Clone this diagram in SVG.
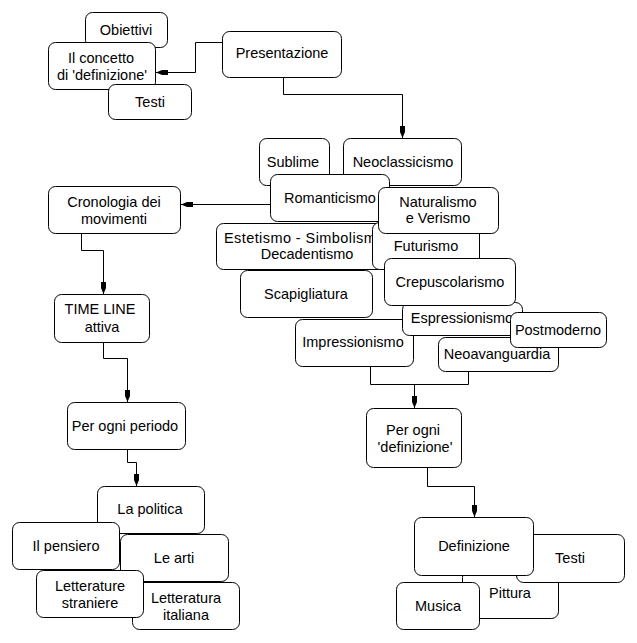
<svg xmlns="http://www.w3.org/2000/svg" width="637" height="643" viewBox="0 0 637 643">
<style>
.b{fill:#fff;stroke:#000;stroke-width:1}
.t{font-family:"Liberation Sans",Arial,sans-serif;font-size:14.5px;fill:#000;text-anchor:middle}
.c{fill:none;stroke:#000;stroke-width:1}
</style>
<defs>
<marker id="ah" markerUnits="userSpaceOnUse" markerWidth="12" markerHeight="8" viewBox="0 0 12 8" refX="12" refY="4" orient="auto">
<path d="M0,1.5 L6,1.5 L12,4 L6,6.5 L0,6.5 Z" fill="#000"/>
</marker>
</defs>
<rect width="637" height="643" fill="#fff"/>
<g id="connectors">
<polyline class="c" points="222.5,42.5 195.5,42.5 195.5,72.5 156,72.5" marker-end="url(#ah)"/>
<polyline class="c" points="283.5,77.5 283.5,94.5 402.5,94.5 402.5,138" marker-end="url(#ah)"/>
<polyline class="c" points="270.5,204.5 181,204.5" marker-end="url(#ah)"/>
<polyline class="c" points="81.5,233.5 81.5,250.5 103.5,250.5 103.5,294" marker-end="url(#ah)"/>
<polyline class="c" points="103.5,342.5 103.5,358.5 127.5,358.5 127.5,402" marker-end="url(#ah)"/>
<polyline class="c" points="127.5,449.5 127.5,462.5 136.5,462.5 136.5,486" marker-end="url(#ah)"/>
<polyline class="c" points="370.5,366.5 370.5,384.5 468.5,384.5 468.5,371.5"/>
<polyline class="c" points="414.5,384.5 414.5,408" marker-end="url(#ah)"/>
<polyline class="c" points="427.5,467.5 427.5,486.5 474.5,486.5 474.5,517" marker-end="url(#ah)"/>
</g>
<g id="obiettivi"><rect class="b" x="85.5" y="12.5" width="82" height="35" rx="7"/><text class="t" x="126" y="35">Obiettivi</text></g>
<g id="concetto"><rect class="b" x="48.5" y="42.5" width="107" height="47" rx="7"/><text class="t" x="101" y="63">Il concetto</text><text class="t" x="102" y="80">di 'definizione'</text></g>
<g id="testi1"><rect class="b" x="108.5" y="84.5" width="83" height="35" rx="7"/><text class="t" x="150" y="107">Testi</text></g>
<g id="presentazione"><rect class="b" x="222.5" y="31.5" width="119" height="46" rx="7"/><text class="t" x="282" y="58">Presentazione</text></g>
<g id="sublime"><rect class="b" x="259.5" y="138.5" width="70" height="47" rx="7"/><text class="t" x="293" y="167">Sublime</text></g>
<g id="neoclassicismo"><rect class="b" x="343.5" y="138.5" width="118" height="47" rx="7"/><text class="t" x="403" y="167">Neoclassicismo</text></g>
<g id="romanticismo"><rect class="b" x="270.5" y="174.5" width="119" height="47" rx="7"/><text class="t" x="330" y="203">Romanticismo</text></g>
<g id="estetismo"><rect class="b" x="216.5" y="223.5" width="182" height="46" rx="7"/><text class="t" x="224" y="243" style="text-anchor:start" textLength="170" lengthAdjust="spacing">Estetismo - Simbolismo -</text><text class="t" x="307" y="259">Decadentismo</text></g>
<g id="futurismo"><rect class="b" x="372.5" y="222.5" width="107" height="47" rx="7"/><text class="t" x="426" y="251">Futurismo</text></g>
<g id="naturalismo"><rect class="b" x="378.5" y="187.5" width="120" height="46" rx="7"/><text class="t" x="438" y="207">Naturalismo</text><text class="t" x="438" y="223">e Verismo</text></g>
<g id="scapigliatura"><rect class="b" x="240.5" y="270.5" width="132" height="47" rx="7"/><text class="t" x="306" y="299">Scapigliatura</text></g>
<g id="impressionismo"><rect class="b" x="295.5" y="319.5" width="118" height="47" rx="7"/><text class="t" x="353" y="347">Impressionismo</text></g>
<g id="espressionismo"><rect class="b" x="402.5" y="302.5" width="120" height="33" rx="7"/><text class="t" x="462" y="323">Espressionismo</text></g>
<g id="crepuscolarismo"><rect class="b" x="384.5" y="258.5" width="131" height="47" rx="7"/><text class="t" x="450" y="287">Crepuscolarismo</text></g>
<g id="neoavanguardia"><rect class="b" x="438.5" y="337.5" width="120" height="34" rx="7"/><text class="t" x="497" y="359">Neoavanguardia</text></g>
<g id="postmoderno"><rect class="b" x="510.5" y="312.5" width="96" height="35" rx="7"/><text class="t" x="558" y="335">Postmoderno</text></g>
<g id="cronologia"><rect class="b" x="48.5" y="186.5" width="132" height="47" rx="7"/><text class="t" x="114" y="207">Cronologia dei</text><text class="t" x="114" y="224">movimenti</text></g>
<g id="timeline"><rect class="b" x="54.5" y="294.5" width="95" height="48" rx="7"/><text class="t" x="100" y="314">TIME LINE</text><text class="t" x="102" y="332">attiva</text></g>
<g id="periodo"><rect class="b" x="67.5" y="402.5" width="118" height="47" rx="7"/><text class="t" x="125" y="431">Per ogni periodo</text></g>
<g id="politica"><rect class="b" x="97.5" y="486.5" width="107" height="47" rx="7"/><text class="t" x="150" y="514">La politica</text></g>
<g id="pensiero"><rect class="b" x="12.5" y="522.5" width="107" height="47" rx="7"/><text class="t" x="66" y="551">Il pensiero</text></g>
<g id="arti"><rect class="b" x="120.5" y="534.5" width="108" height="47" rx="7"/><text class="t" x="174" y="563">Le arti</text></g>
<g id="italiana"><rect class="b" x="132.5" y="582.5" width="107" height="47" rx="7"/><text class="t" x="186" y="603">Letteratura</text><text class="t" x="186" y="620">italiana</text></g>
<g id="straniere"><rect class="b" x="36.5" y="570.5" width="107" height="47" rx="7"/><text class="t" x="90" y="591">Letterature</text><text class="t" x="90" y="608">straniere</text></g>
<g id="perdefinizione"><rect class="b" x="366.5" y="408.5" width="95" height="59" rx="7"/><text class="t" x="413" y="435">Per ogni</text><text class="t" x="415" y="452">'definizione'</text></g>
<g id="pittura"><rect class="b" x="462.5" y="570.5" width="96" height="48" rx="7"/><text class="t" x="510" y="598">Pittura</text></g>
<g id="testi2"><rect class="b" x="516.5" y="534.5" width="108" height="48" rx="7"/><text class="t" x="570" y="563">Testi</text></g>
<g id="definizione"><rect class="b" x="414.5" y="517.5" width="119" height="58" rx="7"/><text class="t" x="474" y="551">Definizione</text></g>
<g id="musica"><rect class="b" x="396.5" y="582.5" width="83" height="47" rx="7"/><text class="t" x="438" y="611">Musica</text></g>
</svg>
